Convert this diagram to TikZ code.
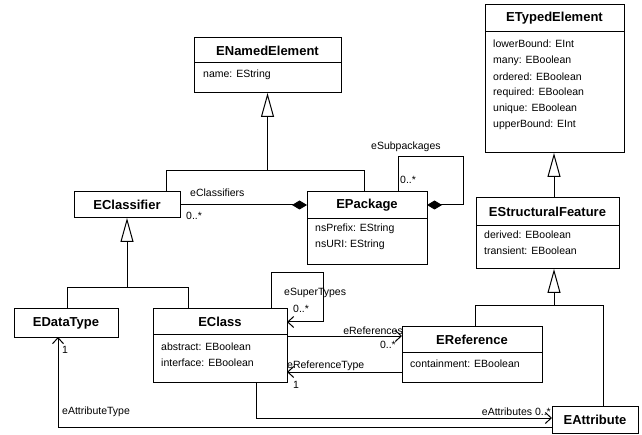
\documentclass[tikz,border=0pt]{standalone}
\usepackage{fontspec}
\setmainfont{Liberation Sans}
\usetikzlibrary{arrows.meta}
\begin{document}
\begin{tikzpicture}[x=1pt,y=-1pt,
  classbox/.style={draw=black, line width=1pt, fill=white, inner sep=0pt, outer sep=0pt, anchor=north west},
  title/.style={font=\fontsize{13}{15}\selectfont\bfseries, inner sep=0pt},
  attr/.style={font=\fontsize{10.5}{12}\selectfont, anchor=west, inner sep=0pt},
  lbl/.style={font=\fontsize{10.5}{12}\selectfont, inner sep=0pt},
  link/.style={draw=black, line width=1pt},
  gen/.style={link, -{Triangle[open, length=24pt, width=13pt]}},
  comp/.style={link, -{Diamond[length=15pt, width=9pt]}},
  assoc/.style={link, -{Straight Barb[length=6pt, width=11pt]}},
  divider/.style={draw=black, line width=1pt}
]
\useasboundingbox (0,0) rectangle (642,435);

% ---------- classes ----------
\node[classbox, minimum width=147pt, minimum height=55pt] (enamed) at (194,38) {};
\node[title] (enamedT) at (267.5,50.5) {ENamedElement};
\draw[divider] (194,63) -- (341,63);
\node[attr] (enamedA1) at (203,75) {name: EString};

\node[classbox, minimum width=139pt, minimum height=148pt] (etyped) at (485,5) {};
\node[title] (etypedT) at (554.5,18.5) {ETypedElement};
\draw[divider] (485,32) -- (624,32);
\node[attr] (etypedA1) at (493,44) {lowerBound: EInt};
\node[attr] (etypedA2) at (493,60.5) {many: EBoolean};
\node[attr] (etypedA3) at (493,76.5) {ordered: EBoolean};
\node[attr] (etypedA4) at (493,92.5) {required: EBoolean};
\node[attr] (etypedA5) at (493,108.5) {unique: EBoolean};
\node[attr] (etypedA6) at (493,124.5) {upperBound: EInt};

\node[classbox, minimum width=106pt, minimum height=26pt] (eclassifier) at (74,192) {};
\node[title] (eclassifierT) at (127,205) {EClassifier};

\node[classbox, minimum width=120pt, minimum height=73pt] (epackage) at (307,192) {};
\node[title] (epackageT) at (367,205.5) {EPackage};
\draw[divider] (307,219) -- (427,219);
\node[attr] (epackageA1) at (315,229) {nsPrefix: EString};
\node[attr] (epackageA2) at (315,245) {nsURI: EString};

\node[classbox, minimum width=143pt, minimum height=71pt] (esf) at (476,198) {};
\node[title] (esfT) at (547.5,212) {EStructuralFeature};
\draw[divider] (476,226) -- (619,226);
\node[attr] (esfA1) at (484,235) {derived: EBoolean};
\node[attr] (esfA2) at (484,251) {transient: EBoolean};

\node[classbox, minimum width=104pt, minimum height=28pt] (edatatype) at (14,309) {};
\node[title] (edatatypeT) at (66,323) {EDataType};

\node[classbox, minimum width=134pt, minimum height=73pt] (eclass) at (153,309) {};
\node[title] (eclassT) at (220,321.5) {EClass};
\draw[divider] (153,334) -- (287,334);
\node[attr] (eclassA1) at (161,347) {abstract: EBoolean};
\node[attr] (eclassA2) at (161,363) {interface: EBoolean};

\node[classbox, minimum width=140pt, minimum height=55pt] (eref) at (402,327) {};
\node[title] (erefT) at (472,339.5) {EReference};
\draw[divider] (402,352) -- (542,352);
\node[attr] (erefA1) at (410,364) {containment: EBoolean};

\node[classbox, minimum width=86pt, minimum height=27pt] (eattr) at (552,406) {};
\node[title] (eattrT) at (595,419.5) {EAttribute};

% ---------- generalizations ----------
\coordinate (j1) at (267.5,171);
\draw[gen] (eclassifier.north -| 166,0) |- (j1) -- (enamed.south);
\draw[link] (epackage.north -| 364,0) |- (j1);

\coordinate (j2) at (127,288);
\draw[gen] (edatatype.north -| 67,0) |- (j2) -- (eclassifier.south);
\draw[link] (eclass.north -| 188,0) |- (j2);

\draw[gen] (esf.north -| 554,0) -- (etyped.south -| 554,0);

\coordinate (j3) at (554,306);
\draw[gen] (eref.north -| 475,0) |- (j3) -- (esf.south -| j3);
\draw[link] (eattr.north -| 603,0) |- (j3);

% ---------- associations ----------
\draw[comp] (eclassifier.east) -- (epackage.west |- eclassifier.east);
\node[lbl, anchor=west] (lClassifiers) at (190,193) {eClassifiers};
\node[lbl, anchor=west] (mClassifiers) at (186,216) {0..*};

\draw[comp] (epackage.north -| 398,0) |- (463,157) |- (epackage.east |- 0,205);
\node[lbl, anchor=west] (lSubpackages) at (371,147) {eSubpackages};
\node[lbl, anchor=west] (mSubpackages) at (400,180) {0..*};

\draw[assoc] (eclass.north -| 271,0) |- (323,273) |- (eclass.east |- 0,322);
\node[lbl, anchor=west] (lSuperTypes) at (284,293) {eSuperTypes};
\node[lbl, anchor=west] (mSuperTypes) at (293,309) {0..*};

\draw[assoc] (eclass.east |- 0,336) -- (eref.west |- 0,336);
\node[lbl, anchor=east] (lReferences) at (403,331) {eReferences};
\node[lbl, anchor=east] (mReferences) at (396,345) {0..*};

\draw[assoc] (eref.west |- 0,372) -- (eclass.east |- 0,372);
\node[lbl, anchor=west] (lReferenceType) at (287,366) {eReferenceType};
\node[lbl, anchor=west] (mReferenceType) at (293,385) {1};

\draw[assoc] (eclass.south -| 256,0) |- (eattr.west |- 0,418);
\node[lbl, anchor=east] (lAttributes) at (551,412) {eAttributes 0..*};

\draw[assoc] (eattr.west |- 0,427) -| (edatatype.south -| 58,0);
\node[lbl, anchor=west] (lAttributeType) at (62,412) {eAttributeType};
\node[lbl, anchor=west] (mAttributeType) at (62,350) {1};
\end{tikzpicture}
\end{document}
